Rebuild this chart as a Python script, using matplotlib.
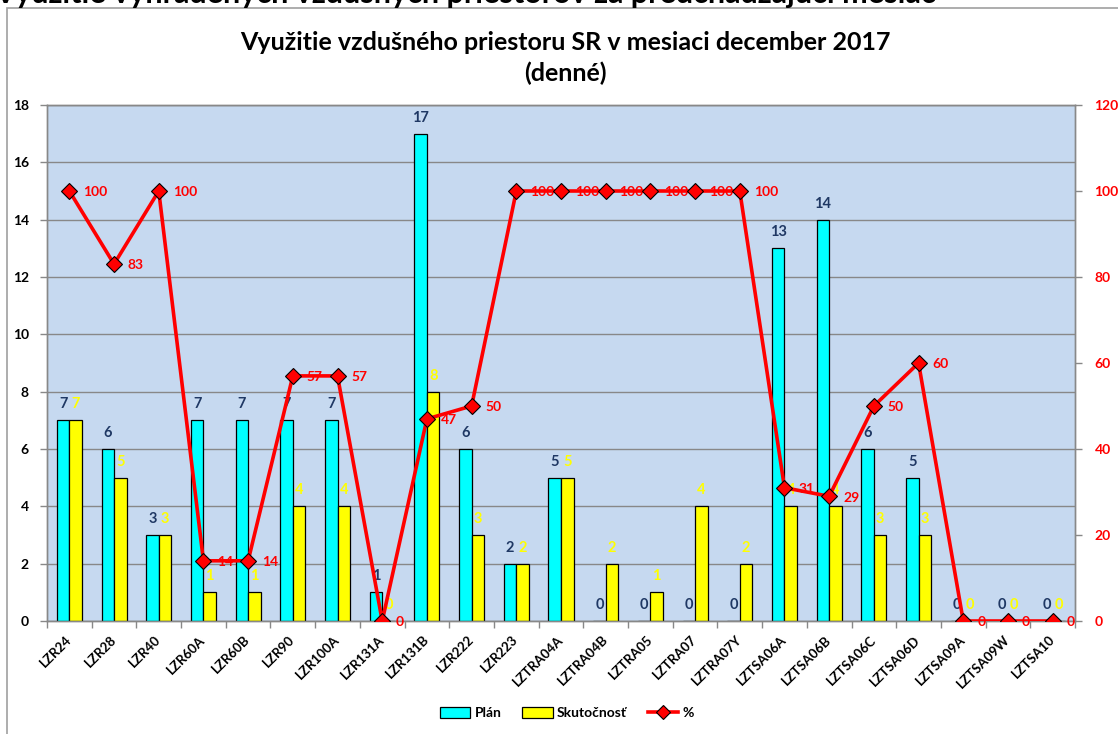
import matplotlib
matplotlib.use("Agg")
import matplotlib.pyplot as plt
from matplotlib.patches import Patch, Rectangle
from matplotlib.lines import Line2D
import numpy as np

plt.rcParams['font.family'] = ['Lato', 'DejaVu Sans']
plt.rcParams['font.weight'] = 'bold'

categories = ["LZR24", "LZR28", "LZR40", "LZR60A", "LZR60B", "LZR90", "LZR100A",
              "LZR131A", "LZR131B", "LZR222", "LZR223", "LZTRA04A", "LZTRA04B",
              "LZTRA05", "LZTRA07", "LZTRA07Y", "LZTSA06A", "LZTSA06B", "LZTSA06C",
              "LZTSA06D", "LZTSA09A", "LZTSA09W", "LZTSA10"]
plan = [7, 6, 3, 7, 7, 7, 7, 1, 17, 6, 2, 5, 0, 0, 0, 0, 13, 14, 6, 5, 0, 0, 0]
skutocnost = [7, 5, 3, 1, 1, 4, 4, 0, 8, 3, 2, 5, 2, 1, 4, 2, 4, 4, 3, 3, 0, 0, 0]
percent = [100, 83, 100, 14, 14, 57, 57, 0, 47, 50, 100, 100, 100, 100, 100, 100,
           31, 29, 50, 60, 0, 0, 0]
left_ticks = list(range(0, 19, 2))
right_ticks = list(range(0, 121, 20))

W, H = 1118, 734
fig = plt.figure(figsize=(W / 100, H / 100), dpi=100)
fig.patch.set_facecolor('white')

# outer chart frame (left and top edges visible)
fig.add_artist(Rectangle((7 / W, -0.1), 1.2, 1 - 8 / H + 0.1, transform=fig.transFigure,
                         fill=False, edgecolor='#A0A0A0', linewidth=1.2))
# cropped heading at very top (only its lower edge is visible in the reference)
fig.text(-0.005, 1 - 2.5 / H, "Využitie vyhradených vzdušných priestorov za predchádzajúci mesiac",
         fontsize=22, fontweight='bold', color='black', ha='left', va='baseline')

x0, x1 = 47 / W, 1075 / W
y0, y1 = 1 - 621 / H, 1 - 105 / H
ax = fig.add_axes([x0, y0, x1 - x0, y1 - y0])
ax.set_facecolor('#C6D9F0')
ax2 = ax.twinx()

x = np.arange(len(categories))
w = 0.28
grid_c = '#888888'

ax.bar(x - w / 2, plan, w, color='#00FFFF', edgecolor='black', linewidth=0.9, zorder=3)
ax.bar(x + w / 2, skutocnost, w, color='#FFFF00', edgecolor='black', linewidth=0.9, zorder=3)

for xi, v in zip(x, plan):
    ax.annotate(str(v), (xi - w / 2, v), xytext=(0, 11.5), textcoords='offset points',
                ha='center', va='center', color='#1F3864', fontsize=10.5, fontweight='bold', zorder=5)
for xi, v in zip(x, skutocnost):
    ax.annotate(str(v), (xi + w / 2, v), xytext=(0, 11.5), textcoords='offset points',
                ha='center', va='center', color='#FFFF00', fontsize=10.5, fontweight='bold', zorder=5)

ax.set_xlim(-0.5, len(categories) - 0.5)
ax.set_ylim(0, 18)
ax.set_yticks(left_ticks)
ax.yaxis.grid(True, color=grid_c, linewidth=1.0, zorder=0)
ax.set_axisbelow(True)
ax.set_xticks(x)
ax.set_xticklabels(categories, rotation=45, ha='right', va='center', rotation_mode='anchor',
                   fontsize=9.5, fontweight='bold')
ax.set_xticks(np.arange(-0.5, len(categories), 1), minor=True)
ax.tick_params(axis='x', which='major', length=0, pad=12)
ax.tick_params(axis='x', which='minor', length=5, color=grid_c, width=1)
ax.tick_params(axis='y', length=5, color=grid_c, width=1, labelsize=10, pad=8)
for lab in ax.get_yticklabels():
    lab.set_fontweight('bold')
for sp in ax.spines.values():
    sp.set_color(grid_c)
    sp.set_linewidth(1.0)

ax2.plot(x, percent, color='#FF0000', linewidth=2.6, marker='D', markersize=8,
         markerfacecolor='#FF0000', markeredgecolor='black', markeredgewidth=0.8, zorder=4)
for xi, v in zip(x, percent):
    ax2.annotate(str(v), (xi, v), xytext=(10, -1), textcoords='offset points',
                 ha='left', va='center', color='#FF0000', fontsize=10, fontweight='bold')
ax2.set_ylim(0, 120)
ax2.set_yticks(right_ticks)
ax2.tick_params(axis='y', length=5, color=grid_c, width=1, labelsize=10, labelcolor='#FF0000', pad=9)
for lab in ax2.get_yticklabels():
    lab.set_fontweight('bold')
for sp in ax2.spines.values():
    sp.set_color(grid_c)
    sp.set_linewidth(1.0)

fig.text(0.506, 1 - 42 / H, "Využitie vzdušného priestoru SR v mesiaci december 2017",
         ha='center', va='center', fontsize=18, fontweight='bold')
fig.text(0.506, 1 - 73 / H, "(denné)", ha='center', va='center', fontsize=18, fontweight='bold')

handles = [Patch(facecolor='#00FFFF', edgecolor='black', linewidth=0.9),
           Patch(facecolor='#FFFF00', edgecolor='black', linewidth=0.9),
           Line2D([], [], color='#FF0000', linewidth=2.6, marker='D', markersize=7,
                  markerfacecolor='#FF0000', markeredgecolor='black', markeredgewidth=0.8)]
fig.legend(handles, ["Plán", "Skutočnosť", "%"], loc='center', bbox_to_anchor=(0.507, 1 - 713 / H),
           ncol=3, frameon=False, prop={'weight': 'bold', 'size': 10},
           handlelength=2.2, handleheight=0.9, handletextpad=0.3, columnspacing=1.5)

fig.savefig("out.png", dpi=100)
